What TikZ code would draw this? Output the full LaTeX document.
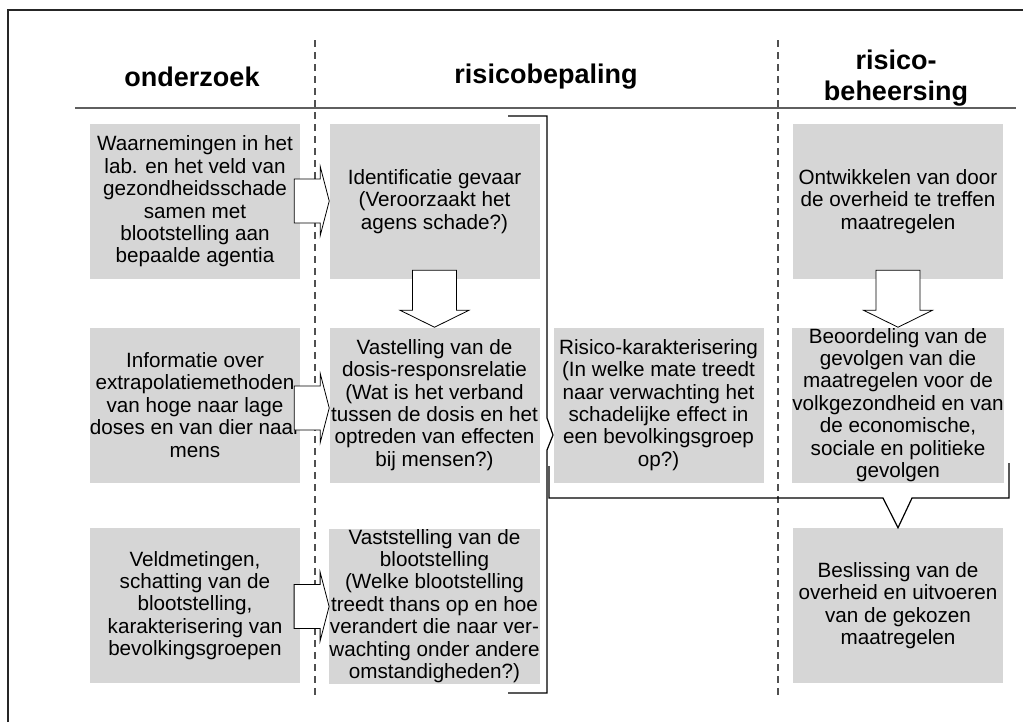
\documentclass[tikz,border=0pt]{standalone}
\usepackage{fontspec}
\setmainfont{Liberation Sans}
\usetikzlibrary{positioning}
\definecolor{BoxGray}{RGB}{214,214,214}
\definecolor{RuleGray}{RGB}{95,95,95}
\definecolor{DashGray}{RGB}{80,80,80}

\tikzset{
  stage/.style={rectangle, fill=BoxGray, inner sep=0pt, minimum width=157.5pt,
    minimum height=116.25pt, align=center, font=\fontsize{15.5}{16.8}\selectfont},
  heading/.style={align=center, font=\bfseries\fontsize{20.25}{23}\selectfont},
  column/.style={DashGray, line width=0.8pt, dash pattern=on 5.25pt off 3.75pt},
  bracket/.style={black, line width=0.9pt},
  pics/rblock/.style={code={
    \draw[fill=white, line width=0.6pt] (-35,-22) -- (-9,-22) -- (-9,-34.5) -- (0,0)
      -- (-9,34.5) -- (-9,22) -- (-35,22) -- cycle;}},
  pics/dblock/.style={code={
    \draw[fill=white, line width=0.6pt] (0,0) -- (-34.5,-17) -- (-22,-17) -- (-22,-57)
      -- (22,-57) -- (22,-17) -- (34.5,-17) -- cycle;}},
}

\begin{document}
\begin{tikzpicture}[x=0.75pt, y=-0.75pt]
  \useasboundingbox (0,0) rectangle (1023,722);
  % frame and rules
  \draw[line width=0.9pt, black!85] (8,722) -- (8,10) -- (1023,10);
  \draw[RuleGray, line width=0.9pt] (75,108) -- (1016,108);

  % headings
  \node[heading] (hOnder) at (192,77) {onderzoek};
  \node[heading] (hBepal) at (546,77) {risicobepaling};
  \node[heading] (hBeheer) at (896,78) {risico-\\beheersing};

  % onderzoek
  \node[stage] (waarn) at (195,201.5) {Waarnemingen in het\\lab. en het veld van\\gezondheidsschade\\samen met\\blootstelling aan\\bepaalde agentia};
  \node[stage] (inform) at (195,405) {Informatie over\\extrapolatiemethoden\\van hoge naar lage\\doses en van dier naar\\mens};
  \node[stage] (veldm) at (195,605.5) {Veldmetingen,\\schatting van de\\blootstelling,\\karakterisering van\\bevolkingsgroepen};

  % risicobepaling
  \node[stage] (ident) at (434.5,201.5) {Identificatie gevaar\\(Veroorzaakt het\\agens schade?)};
  \node[stage] (dosis) at (434.5,405) {Vastelling van de\\dosis-responsrelatie\\(Wat is het verband\\tussen de dosis en het\\optreden van effecten\\bij mensen?)};
  \node[stage] (bloot) at (434.5,606) {Vaststelling van de\\blootstelling\\(Welke blootstelling\\treedt thans op en hoe\\verandert die naar ver-\\wachting onder andere\\omstandigheden?)};
  \node[stage] (karak) at (658.5,405) {Risico-karakterisering\\(In welke mate treedt\\naar verwachting het\\schadelijke effect in\\een bevolkingsgroep\\op?)};

  % risicobeheersing
  \node[stage] (ontw) at (898,201.5) {Ontwikkelen van door\\de overheid te treffen\\maatregelen};
  \node[stage] (beoord) at (898,405) {Beoordeling van de\\gevolgen van die\\maatregelen voor de\\volkgezondheid en van\\de economische,\\sociale en politieke\\gevolgen};
  \node[stage] (besl) at (898,605.5) {Beslissing van de\\overheid en uitvoeren\\van de gekozen\\maatregelen};

  % column separators
  \draw[column] (315,40) -- (315,698);
  \draw[column] (778,40) -- (778,698);

  % block arrows
  \foreach \to/\dy in {ident/0.5, dosis/-3, bloot/-0.5}
    \pic at ([yshift=\dy*0.75pt]\to.west) {rblock};
  \pic at (dosis.north) {dblock};
  \pic at (beoord.north) {dblock};

  % brackets
  \draw[bracket] (508,116) -- (547,116) -- (547,418) -- (553,435) -- (547,450)
    -- (547,693) -- (508,693);
  \draw[bracket] (549,466) -- (549,498) -- (883,498) -- (besl.north) -- (912,498)
    -- (1009,498) -- (1009,463);
\end{tikzpicture}
\end{document}
